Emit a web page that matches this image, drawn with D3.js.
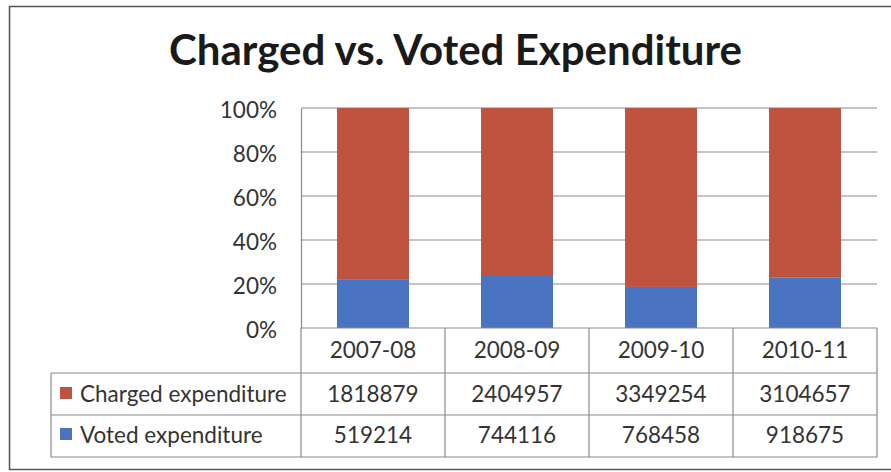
<!DOCTYPE html>
<html><head><meta charset="utf-8">
<script src="https://cdn.jsdelivr.net/npm/d3@7/dist/d3.min.js"></script>
<style>body{margin:0;background:#fff}svg{display:block}</style>
</head><body>
<svg id="c" width="891" height="472"></svg>
<script>
const title = "Charged vs. Voted Expenditure";
const categories = ["2007-08","2008-09","2009-10","2010-11"];
const seriesNames = ["Charged expenditure","Voted expenditure"];
const charged = [1818879,2404957,3349254,3104657];
const voted = [519214,744116,768458,918675];
const yTicks = [0,0.2,0.4,0.6,0.8,1];
const colors = {"Charged expenditure":"#BF5340","Voted expenditure":"#4A74C2"};

const font = "Lato, 'Open Sans', sans-serif";
const fs = 22.5;
const svg = d3.select("#c");
const plot = {l:301, r:877, t:108, b:328};
const table = {l:51, rows:[328,373,415,457]};

// outer border
svg.append("rect").attr("x",9.5).attr("y",6.5).attr("width",900).attr("height",463)
  .attr("fill","none").attr("stroke","#555").attr("stroke-width",1.5);

svg.append("text").attr("x",455.5).attr("y",65).attr("text-anchor","middle")
  .attr("font-family",font).attr("font-weight","bold").attr("font-size",42)
  .attr("fill","#1a1a1a").text(title);

const x = d3.scaleBand().domain(categories).range([plot.l,plot.r]).paddingInner(0.5).paddingOuter(0.25);
const xCol = d3.scaleBand().domain(categories).range([plot.l,plot.r]);
const y = d3.scaleLinear().domain([0,1]).range([plot.b,plot.t]);

// gridlines
svg.append("g").selectAll("line").data(yTicks.filter(d=>d>0)).join("line")
  .attr("x1",plot.l).attr("x2",plot.r).attr("y1",d=>y(d)).attr("y2",d=>y(d))
  .attr("stroke","#8a8a8a").attr("stroke-width",1.2);

// stacked data
const rows = categories.map((c,i)=>{const t=charged[i]+voted[i];return {cat:c,"Voted expenditure":voted[i]/t,"Charged expenditure":charged[i]/t};});
const stack = d3.stack().keys(["Voted expenditure","Charged expenditure"])(rows);
svg.append("g").selectAll("g").data(stack).join("g").attr("fill",d=>colors[d.key])
  .selectAll("rect").data(d=>d).join("rect")
  .attr("x",d=>x(d.data.cat)).attr("width",x.bandwidth())
  .attr("y",d=>y(d[1])).attr("height",d=>y(d[0])-y(d[1]));

// y axis
const yAxis = d3.axisLeft(y).tickValues(yTicks).tickFormat(d3.format(".0%")).tickSize(0).tickPadding(24);
const ga = svg.append("g").attr("transform",`translate(${plot.l},0)`).call(yAxis);
ga.select(".domain").attr("stroke","#8a8a8a").attr("stroke-width",1.2);
ga.selectAll("text").attr("font-family",font).attr("font-size",fs).attr("fill","#333").attr("dy","0.4em");

// data table
const tg = svg.append("g").attr("stroke","#8a8a8a").attr("stroke-width",1.2);
tg.append("line").attr("x1",plot.l).attr("x2",plot.r).attr("y1",table.rows[0]).attr("y2",table.rows[0]);
table.rows.slice(1).forEach(yy=>tg.append("line").attr("x1",table.l).attr("x2",plot.r).attr("y1",yy).attr("y2",yy));
tg.append("line").attr("x1",table.l).attr("x2",table.l).attr("y1",table.rows[1]).attr("y2",table.rows[3]);
const vx = categories.map(c=>xCol(c)).concat([plot.r]);
vx.forEach(xx=>tg.append("line").attr("x1",xx).attr("x2",xx).attr("y1",table.rows[0]).attr("y2",table.rows[3]));

const txt = (xx,yy,s,anchor)=>svg.append("text").attr("x",xx).attr("y",yy).attr("text-anchor",anchor||"middle")
  .attr("font-family",font).attr("font-size",fs).attr("fill","#333").text(s);
categories.forEach(c=>txt(xCol(c)+xCol.bandwidth()/2,358,c));
const seriesVals = {"Charged expenditure":charged,"Voted expenditure":voted};
seriesNames.forEach((s,j)=>{
  const yy = [402,443][j];
  svg.append("rect").attr("x",60).attr("y",yy-15).attr("width",12).attr("height",12).attr("fill",colors[s]);
  txt(80,yy,s,"start");
  categories.forEach((c,i)=>txt(xCol(c)+xCol.bandwidth()/2,yy,String(seriesVals[s][i])));
});
</script>
</body></html>
